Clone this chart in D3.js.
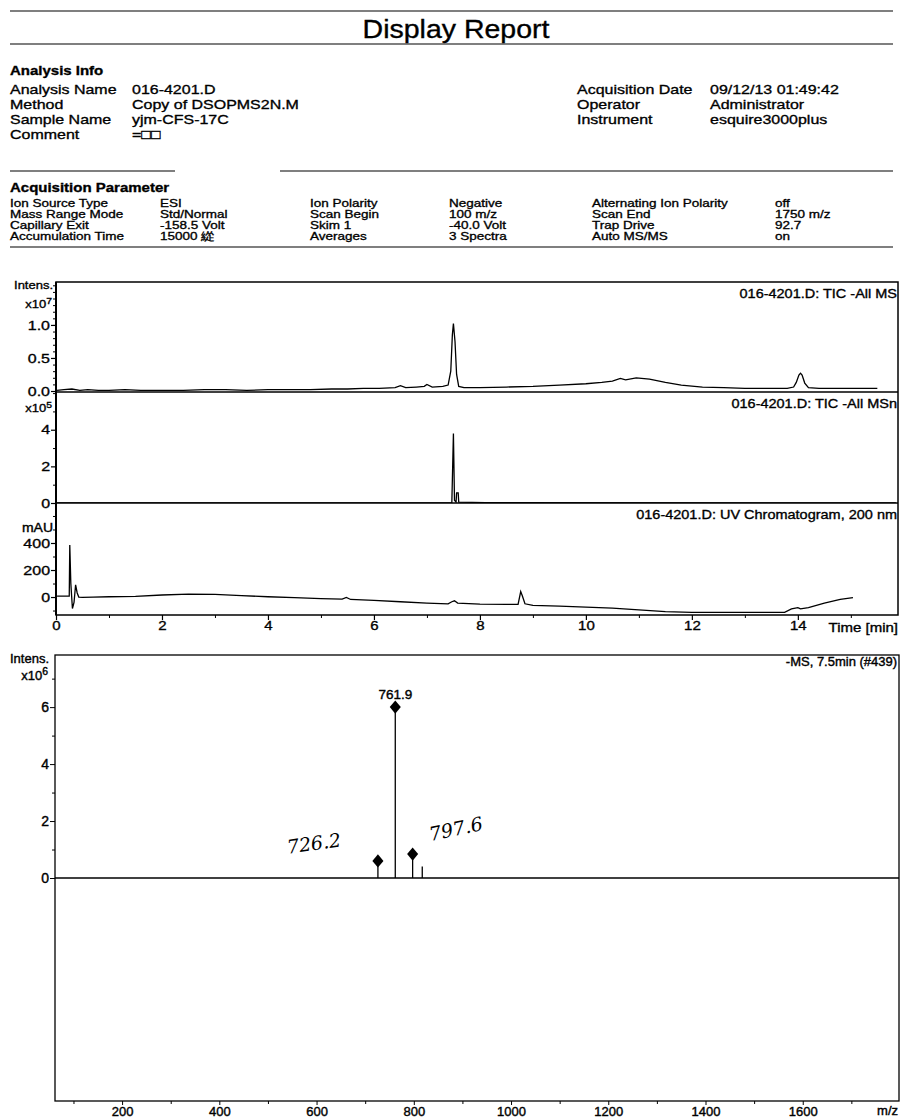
<!DOCTYPE html>
<html>
<head>
<meta charset="utf-8">
<script src="https://cdn.jsdelivr.net/npm/d3@7"></script>
<style>
  body { margin: 0; background: #fff; }
  svg text { font-family: "Liberation Sans", Arial, sans-serif; fill: #000; }
  .ink { stroke: #000; stroke-width: 0.4px; }
</style>
</head>
<body>
<div id="report"></div>
<script>
// ---- header data
const infoNames = ["Analysis Name", "Method", "Sample Name", "Comment"];
const infoValues = ["016-4201.D", "Copy of DSOPMS2N.M", "yjm-CFS-17C", "=\u25A1\u25A1"];
const infoNames2 = ["Acquisition Date", "Operator", "Instrument"];
const infoValues2 = ["09/12/13 01:49:42", "Administrator", "esquire3000plus"];
const paramNames1 = ["Ion Source Type", "Mass Range Mode", "Capillary Exit", "Accumulation Time"];
const paramValues1 = ["ESI", "Std/Normal", "-158.5 Volt", "15000 緃"];
const paramNames2 = ["Ion Polarity", "Scan Begin", "Skim 1", "Averages"];
const paramValues2 = ["Negative", "100 m/z", "-40.0 Volt", "3 Spectra"];
const paramNames3 = ["Alternating Ion Polarity", "Scan End", "Trap Drive", "Auto MS/MS"];
const paramValues3 = ["off", "1750 m/z", "92.7", "on"];

// ---- chromatograms  [time min, value]
const ticMs = [ // x10^7
  [0.02, 0.01], [0.15, 0.02], [0.3, 0.03], [0.45, 0.01], [0.6, 0.02], [0.8, 0.01], [1.0, 0.01],
  [1.3, 0.02], [1.6, 0.01], [2.0, 0.01], [2.4, 0.01], [2.8, 0.02], [3.2, 0.02], [3.6, 0.01],
  [4.0, 0.02], [4.4, 0.02], [4.8, 0.02], [5.2, 0.03], [5.5, 0.03], [5.8, 0.04], [6.1, 0.04],
  [6.4, 0.05], [6.5, 0.08], [6.6, 0.05], [6.8, 0.06], [6.95, 0.07], [7.0, 0.1], [7.1, 0.06],
  [7.3, 0.07], [7.4, 0.09], [7.45, 0.3], [7.48, 0.85], [7.5, 1.02], [7.53, 0.75], [7.56, 0.25],
  [7.6, 0.07], [7.7, 0.05], [8.0, 0.05], [8.5, 0.06], [9.0, 0.07], [9.5, 0.09], [10.0, 0.11],
  [10.3, 0.13], [10.5, 0.15], [10.65, 0.19], [10.75, 0.17], [10.95, 0.2], [11.2, 0.18],
  [11.5, 0.13], [11.8, 0.09], [12.2, 0.06], [12.6, 0.05], [13.0, 0.04], [13.4, 0.04],
  [13.8, 0.04], [13.92, 0.06], [13.97, 0.13], [14.02, 0.24], [14.05, 0.27], [14.08, 0.24],
  [14.13, 0.12], [14.2, 0.05], [14.4, 0.04], [14.8, 0.04], [15.2, 0.04], [15.5, 0.04]
];
const ticMsn = [ // x10^5
  [0.02, 0], [7.47, 0], [7.5, 3.8], [7.52, 0.15], [7.55, 0.05], [7.56, 0.55], [7.59, 0.55],
  [7.6, 0.05], [8.1, 0.02], [15.85, 0]
];
const uv = [ // mAU
  [0.02, 7], [0.25, 7], [0.26, 385], [0.28, 100], [0.31, -85], [0.34, -40], [0.37, 90], [0.4, 30],
  [0.43, 0], [0.5, -3], [0.7, 0], [1.0, 2], [1.5, 5], [2.0, 15], [2.5, 22], [3.0, 20], [3.5, 10],
  [4.0, 2], [4.5, -5], [5.0, -12], [5.4, -15], [5.48, -3], [5.56, -18], [6.0, -25], [6.5, -35],
  [7.0, -45], [7.4, -50], [7.47, -35], [7.52, -28], [7.58, -45], [8.0, -52], [8.5, -54],
  [8.72, -54], [8.77, 40], [8.8, 10], [8.85, -50], [9.0, -62], [9.5, -68], [10.0, -74],
  [10.5, -82], [11.0, -95], [11.5, -108], [12.0, -113], [13.0, -113], [13.75, -113],
  [13.88, -88], [14.0, -78], [14.05, -88], [14.2, -78], [14.5, -45], [14.8, -18], [15.04, -5]
];
const timeTicks = [0, 2, 4, 6, 8, 10, 12, 14];
const traceTitles = ["016-4201.D: TIC -All MS", "016-4201.D: TIC -All MSn", "016-4201.D: UV Chromatogram, 200 nm"];

// ---- mass spectrum  (-MS, 7.5 min)
const msMz = [726.2, 761.9, 797.6, 817.4];
const msInt = [0.6, 6.0, 0.84, 0.4]; // x10^6
const markedMz = [726.2, 761.9, 797.6];
const labelMz = [761.9];
const handNotes = ["726.2", "797.6"];
const mzTicks = [200, 400, 600, 800, 1000, 1200, 1400, 1600];

const svg = d3.select("#report").append("svg").attr("width", 901).attr("height", 1119);

// text a bit squashed vertically, like the scanned page
function txt(g, x, y, s, size, o = {}) {
  return g.append("text")
    .attr("transform", `translate(${x},${y}) scale(1,${o.sy || 0.85})`)
    .attr("text-anchor", o.anchor || "start")
    .attr("class", "ink")
    .style("font-size", size + "px")
    .style("font-weight", o.bold ? "bold" : null)
    .text(s);
}
function hline(y, x0, x1, w) {
  svg.append("line").attr("x1", x0).attr("x2", x1).attr("y1", y).attr("y2", y)
    .attr("stroke", "#000").attr("stroke-width", w || 1.2);
}
function sup(t, base, exp) {
  t.text(base).append("tspan").attr("dy", "-0.45em").style("font-size", "0.8em").text(exp);
}

// ---- header
hline(11, 10, 893);
txt(svg, 456, 38, "Display Report", 28.5, { anchor: "middle", sy: 0.9 });
hline(44, 10, 893);
txt(svg, 10, 75, "Analysis Info", 15, { bold: true });
infoNames.forEach((s, i) => {
  txt(svg, 10, 94 + i * 15, s, 16);
  txt(svg, 132, 94 + i * 15, infoValues[i], 16);
});
infoNames2.forEach((s, i) => {
  txt(svg, 577, 94 + i * 15, s, 16);
  txt(svg, 710, 94 + i * 15, infoValues2[i], 16);
});
hline(171, 10, 175);
hline(171, 280, 893);
txt(svg, 10, 192, "Acquisition Parameter", 15, { bold: true });
[[paramNames1, 10], [paramValues1, 160], [paramNames2, 310], [paramValues2, 449],
 [paramNames3, 592], [paramValues3, 775]].forEach(([col, x]) => {
  col.forEach((s, i) => txt(svg, x, 207 + i * 11, s, 13.5, { sy: 0.8 }));
});
hline(247, 10, 893);

// ---- chromatogram block
const cx = d3.scaleLinear().domain([0, 15.89]).range([56, 898]);
const panels = [
  { top: 282, bottom: 392, y: d3.scaleLinear().domain([0, 1.65]).range([391, 282]),
    data: ticMs, major: [0, 0.5, 1.0], minor: d3.range(0.1, 1.65, 0.1), fmt: d3.format(".1f") },
  { top: 392, bottom: 503, y: d3.scaleLinear().domain([0, 6.06]).range([503, 392]),
    data: ticMsn, major: [0, 2, 4], minor: [1, 3, 5, 6], fmt: d3.format("d") },
  { top: 503, bottom: 615, y: d3.scaleLinear().domain([-133, 696]).range([615, 503]),
    data: uv, major: [0, 200, 400], minor: [-100, 100, 300, 500, 600], fmt: d3.format("d") }
];

const chrom = svg.append("g");
panels.forEach((p, i) => {
  const clip = "clip" + i;
  chrom.append("clipPath").attr("id", clip).append("rect")
    .attr("x", 56).attr("y", p.top).attr("width", 842).attr("height", p.bottom - p.top);

  const line = d3.line().x(d => cx(d[0])).y(d => p.y(d[1]));
  chrom.append("path").datum(p.data).attr("clip-path", `url(#${clip})`)
    .attr("fill", "none").attr("stroke", "#000").attr("stroke-width", 1.3).attr("d", line);

  const ax = chrom.append("g").attr("transform", "translate(56,0)")
    .call(d3.axisLeft(p.y).tickValues(p.major).tickSize(5).tickPadding(1).tickFormat(p.fmt));
  ax.select(".domain").remove();
  ax.selectAll("line").attr("stroke-width", 1.2);
  ax.selectAll("text").attr("class", "ink").attr("transform", "scale(1,0.8)")
    .style("font-size", "16px").style("font-family", null);
  const mn = chrom.append("g").attr("transform", "translate(56,0)")
    .call(d3.axisLeft(p.y).tickValues(p.minor).tickSize(3).tickFormat(""));
  mn.select(".domain").remove();

  txt(chrom, 897, p.top + 16, traceTitles[i], 14.5, { anchor: "end", sy: 0.85 });
});

// frame of the three traces
chrom.append("rect").attr("x", 56).attr("y", 282).attr("width", 842).attr("height", 333)
  .attr("fill", "none").attr("stroke", "#000").attr("stroke-width", 1.5);
hline(392, 56, 898, 1.5);
hline(503, 56, 898, 1.5);
chrom.append("line").attr("x1", 56).attr("x2", 56).attr("y1", 282).attr("y2", 615)
  .attr("stroke", "#000").attr("stroke-width", 2);

txt(chrom, 53, 289, "Intens.", 13, { anchor: "end", sy: 0.85 });
sup(txt(chrom, 52, 308, "", 13, { anchor: "end", sy: 0.85 }), "x10", "7");
sup(txt(chrom, 52, 412, "", 13, { anchor: "end", sy: 0.85 }), "x10", "5");
txt(chrom, 53, 532, "mAU", 14, { anchor: "end", sy: 0.85 });

const tAx = chrom.append("g").attr("transform", "translate(0,615)")
  .call(d3.axisBottom(cx).tickValues(timeTicks).tickSize(5).tickPadding(3).tickFormat(d3.format("d")));
tAx.select(".domain").remove();
tAx.selectAll("line").attr("stroke-width", 1.2);
tAx.selectAll("text").attr("class", "ink").attr("transform", "scale(1,0.8)")
  .style("font-size", "15px").style("font-family", null);
const tMn = chrom.append("g").attr("transform", "translate(0,615)")
  .call(d3.axisBottom(cx).tickValues(d3.range(1, 16, 2)).tickSize(3).tickFormat(""));
tMn.select(".domain").remove();
txt(chrom, 898, 632, "Time [min]", 15, { anchor: "end", sy: 0.8 });

// ---- mass spectrum
const mx = d3.scaleLinear().domain([62, 1798]).range([55, 899]);
const my = d3.scaleLinear().domain([-7.83, 7.83]).range([1101, 655]);
const ms = svg.append("g");

ms.append("line").attr("x1", mx(mx.domain()[0])).attr("x2", mx(mx.domain()[1]))
  .attr("y1", my(0)).attr("y2", my(0)).attr("stroke", "#000").attr("stroke-width", 1.3);
ms.selectAll(".stick").data(msMz).enter().append("line").attr("class", "stick")
  .attr("x1", d => mx(d)).attr("x2", d => mx(d))
  .attr("y1", my(0)).attr("y2", (d, i) => my(msInt[i]))
  .attr("stroke", "#000").attr("stroke-width", 1.3);
ms.selectAll(".mark").data(markedMz).enter().append("path").attr("class", "mark")
  .attr("transform", d => `translate(${mx(d)},${my(msInt[msMz.indexOf(d)])}) scale(1,1.2)`)
  .attr("d", d3.symbol(d3.symbolDiamond2, 78)).attr("fill", "#000");
labelMz.forEach(d => {
  txt(ms, mx(d), my(msInt[msMz.indexOf(d)]) - 8, d.toFixed(1), 13.5, { anchor: "middle", sy: 1 });
});

// handwritten notes next to the small peaks
ms.append("text").attr("transform", `translate(${mx(726.2) - 90},${my(0.85)}) rotate(-8)`)
  .style("font-family", "DejaVu Serif").style("font-style", "italic").style("font-size", "19px")
  .text(handNotes[0]);
ms.append("text").attr("transform", `translate(${mx(797.6) + 18},${my(1.3)}) rotate(-12)`)
  .style("font-family", "DejaVu Serif").style("font-style", "italic").style("font-size", "19px")
  .text(handNotes[1]);

ms.append("rect").attr("x", 55).attr("y", 655).attr("width", 844).attr("height", 446)
  .attr("fill", "none").attr("stroke", "#000").attr("stroke-width", 1.3);

const myAx = ms.append("g").attr("transform", "translate(55,0)")
  .call(d3.axisLeft(my).tickValues([0, 2, 4, 6]).tickSize(5).tickPadding(1).tickFormat(d3.format("d")));
myAx.select(".domain").remove();
myAx.selectAll("text").attr("class", "ink").style("font-size", "14px").style("font-family", null);
const myMn = ms.append("g").attr("transform", "translate(55,0)")
  .call(d3.axisLeft(my).tickValues([1, 3, 5, 7]).tickSize(3).tickFormat(""));
myMn.select(".domain").remove();

txt(ms, 49, 663, "Intens.", 13, { anchor: "end", sy: 1 });
sup(txt(ms, 48, 680, "", 13, { anchor: "end", sy: 1 }), "x10", "6");
txt(ms, 897, 666, "-MS, 7.5min (#439)", 13, { anchor: "end", sy: 1.05 });

const mxAx = ms.append("g").attr("transform", "translate(0,1101)")
  .call(d3.axisBottom(mx).tickValues(mzTicks).tickSize(4).tickPadding(2).tickFormat(d3.format("d")));
mxAx.select(".domain").remove();
mxAx.selectAll("text").attr("class", "ink").style("font-size", "13px").style("font-family", null);
const mxMn = ms.append("g").attr("transform", "translate(0,1101)")
  .call(d3.axisBottom(mx).tickValues(d3.range(100, 1800, 200)).tickSize(3).tickFormat(""));
mxMn.select(".domain").remove();
txt(ms, 898, 1115, "m/z", 13, { anchor: "end", sy: 1 });
</script>
</body>
</html>
